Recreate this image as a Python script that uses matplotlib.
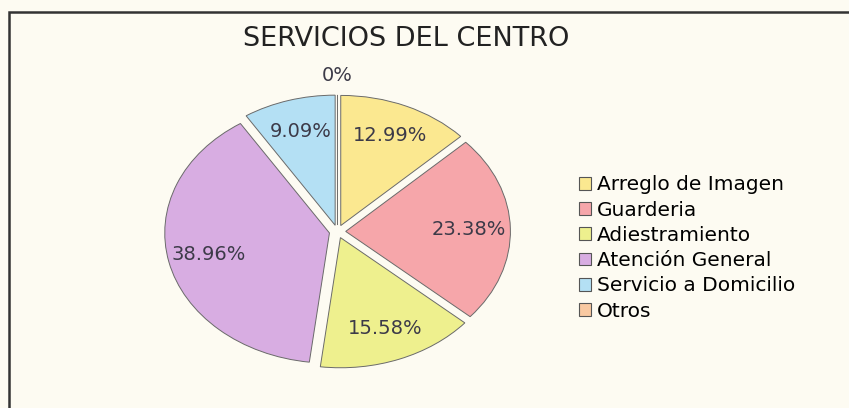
import matplotlib.pyplot as plt
import matplotlib.patches as mpatches
import numpy as np

# Data
categories = ['Arreglo de Imagen', 'Guarderia', 'Adiestramiento',
              'Atención General', 'Servicio a Domicilio', 'Otros']
values = [12.99, 23.38, 15.58, 38.96, 9.09, 0.0]
pct_labels = ['12.99%', '23.38%', '15.58%', '38.96%', '9.09%', '0%']
colors = ['#fbe890', '#f6a6aa', '#eef08e', '#d8ade2', '#b4e0f4', '#f9c9a2']

bg = '#fdfbf2'
fig = plt.figure(figsize=(8.49, 4.08), dpi=100, facecolor=bg)

# Pie axes (stretched so the pie looks elliptical like the scan)
ax = fig.add_axes([0.188, 0.088, 0.419, 0.689])
ax.set_facecolor(bg)
wedges, _ = ax.pie(values, colors=colors, startangle=90, counterclock=False,
                   explode=[0.05] * len(values),
                   wedgeprops=dict(edgecolor='#6a6a6a', linewidth=0.7))
ax.set_aspect('auto')
ax.set_xlim(-1.08, 1.08)
ax.set_ylim(-1.08, 1.08)
ax.axis('off')

# Percentage labels placed along each wedge's mid angle
for w, lab in zip(wedges, pct_labels):
    ang = np.deg2rad((w.theta1 + w.theta2) / 2)
    r = 0.8 if w.theta2 - w.theta1 > 0 else 1.2
    ax.text(r * np.cos(ang), r * np.sin(ang), lab, ha='center', va='center',
            fontsize=14, color='#3c3a48')

# Title
fig.text(0.478, 0.905, 'SERVICIOS DEL CENTRO', ha='center', va='center',
         fontsize=19.5, color='#222222')

# Legend
handles = [mpatches.Patch(facecolor=c, edgecolor='#555555', linewidth=0.8) for c in colors]
fig.legend(handles, categories, loc='upper left', bbox_to_anchor=(0.672, 0.59),
           frameon=False, fontsize=14.5, handlelength=0.6, handleheight=0.6,
           handletextpad=0.3, labelspacing=0.31, borderaxespad=0)

# Outer frame of the chart area
frame = mpatches.Rectangle((9 / 849, -0.1), 1.2, 1 - 12 / 408 + 0.1,
                           transform=fig.transFigure, fill=False,
                           edgecolor='#333333', linewidth=1.8, clip_on=False)
fig.patches.append(frame)

plt.savefig('out.png', dpi=100, facecolor=bg)
